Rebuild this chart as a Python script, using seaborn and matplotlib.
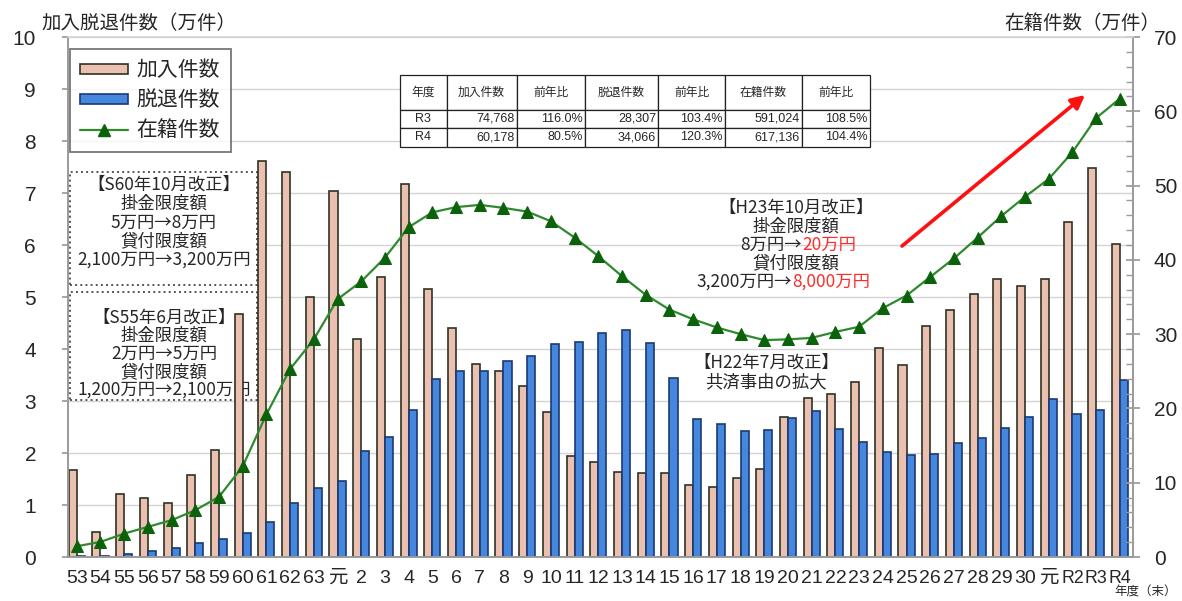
import numpy as np
import pandas as pd
import matplotlib
matplotlib.use("Agg")
import matplotlib.pyplot as plt
from matplotlib.patches import Patch, Rectangle
from matplotlib.lines import Line2D
from matplotlib.ticker import MultipleLocator
import seaborn as sns

# ---- data -------------------------------------------------------------
years = (["S%d" % y for y in range(53, 64)]
         + ["H%d" % y for y in range(1, 31)]
         + ["R%d" % y for y in range(1, 5)])
tick_labels = ([str(y) for y in range(53, 64)] + ["元"]
               + [str(y) for y in range(2, 31)] + ["元", "R2", "R3", "R4"])

# 加入件数 (万件)
joined = [1.67, 0.48, 1.21, 1.14, 1.04, 1.58, 2.05, 4.67, 7.61, 7.40, 5.00,
          7.03, 4.20, 5.39, 7.18, 5.16, 4.41, 3.72, 3.57, 3.28, 2.79,
          1.94, 1.83, 1.63, 1.62, 1.62, 1.38, 1.35, 1.51, 1.70, 2.70,
          3.06, 3.13, 3.36, 4.01, 3.70, 4.44, 4.75, 5.06, 5.35, 5.22,
          5.35, 6.45, 7.4768, 6.0178]
# 脱退件数 (万件)
withdrawn = [0.01, 0.01, 0.06, 0.11, 0.17, 0.26, 0.35, 0.46, 0.68, 1.03, 1.32,
             1.46, 2.03, 2.30, 2.83, 3.42, 3.58, 3.57, 3.76, 3.87, 4.10,
             4.13, 4.31, 4.36, 4.12, 3.44, 2.66, 2.56, 2.43, 2.45, 2.68,
             2.80, 2.46, 2.21, 2.01, 1.96, 1.98, 2.20, 2.28, 2.48, 2.69,
             3.04, 2.75, 2.8307, 3.4066]
# 在籍件数 (万件)
enrolled = [1.45, 2.03, 3.15, 4.06, 4.96, 6.3, 8.1, 12.2, 19.2, 25.3, 29.3,
            34.7, 37.1, 40.3, 44.4, 46.4, 47.1, 47.4, 47.0, 46.5, 45.2,
            43.0, 40.5, 37.8, 35.3, 33.3, 32.0, 30.9, 30.0, 29.2, 29.3,
            29.5, 30.3, 31.0, 33.5, 35.2, 37.7, 40.2, 43.0, 45.9, 48.5,
            50.9, 54.5, 59.1024, 61.7136]

table_header = ["年度", "加入件数", "前年比", "脱退件数", "前年比", "在籍件数", "前年比"]
table_rows = [["R3", "74,768", "116.0%", "28,307", "103.4%", "591,024", "108.5%"],
              ["R4", "60,178", "80.5%", "34,066", "120.3%", "617,136", "104.4%"]]

series_names = ["加入件数", "脱退件数", "在籍件数"]

# ---- style ------------------------------------------------------------
sns.set_theme(style="white")
plt.rcParams["font.family"] = ["Liberation Sans", "Noto Sans CJK JP"]
CJK = ["Noto Sans CJK JP", "Liberation Sans"]

PINK, PINK_EDGE = "#EBC0B1", "#2E3322"
BLUE, BLUE_EDGE = "#4487DC", "#1C3A72"
GREEN_LINE, GREEN_MARK = "#2F8A2F", "#0B620B"
AXIS_GRAY = "#9A9A9A"

n = len(years)
fig, ax = plt.subplots(figsize=(11.82, 6.01), dpi=100)
fig.subplots_adjust(left=0.0575, right=0.9585, bottom=0.0732, top=0.9384)

# ---- bars -------------------------------------------------------------
bars = pd.DataFrame({
    "年度": years * 2,
    "件数": joined + withdrawn,
    "区分": [series_names[0]] * n + [series_names[1]] * n,
})
sns.barplot(data=bars, x="年度", y="件数", hue="区分", order=years,
            hue_order=series_names[:2], palette=[PINK, BLUE], width=0.68,
            saturation=1, errorbar=None, legend=False, ax=ax, zorder=2)
for container, edge in zip(ax.containers, [PINK_EDGE, BLUE_EDGE]):
    for p in container:
        p.set_edgecolor(edge)
        p.set_linewidth(1.2)

xlim = (-0.37, n - 1 + 0.55)
ax.set_xlim(*xlim)
ax.set_ylim(0, 10)
ax.yaxis.set_major_locator(MultipleLocator(1))
ax.set_xticks(np.arange(n))
ax.set_xticklabels(tick_labels)
for lbl in ax.get_xticklabels():
    lbl.set_fontsize(12.8 if lbl.get_text().startswith("R") else 14)
ax.set_xticks(np.arange(n - 1) + 0.5, minor=True)
ax.set_xlabel("")
ax.set_ylabel("")
ax.set_axisbelow(True)
ax.grid(axis="y", color="#D4D4D4", linewidth=1.0, zorder=0.5)
ax.tick_params(axis="x", which="major", length=0, pad=9)
ax.tick_params(axis="x", which="minor", length=6, direction="inout",
               color=AXIS_GRAY, width=1)
ax.tick_params(axis="y", which="major", length=4, direction="out",
               color=AXIS_GRAY, pad=19, labelsize=15)
for side in ["left", "bottom", "right"]:
    ax.spines[side].set_color(AXIS_GRAY)
    ax.spines[side].set_linewidth(1.2)
ax.spines["top"].set_visible(False)

# ---- enrolled line (right axis) --------------------------------------
ax2 = ax.twinx()
sns.lineplot(x=np.arange(n), y=enrolled, ax=ax2, color=GREEN_LINE,
             linewidth=1.6, marker="^", markersize=8,
             markerfacecolor=GREEN_MARK, markeredgecolor=GREEN_MARK, zorder=3)
ax2.set_xlim(*xlim)
ax2.set_ylim(0, 70)
ax2.yaxis.set_major_locator(MultipleLocator(10))
ax2.yaxis.set_minor_locator(MultipleLocator(2))
ax2.tick_params(axis="y", which="major", length=10, direction="inout",
                color=AXIS_GRAY, pad=10, labelsize=15)
ax2.tick_params(axis="y", which="minor", length=5, direction="in",
                color=AXIS_GRAY)
for side in ["left", "bottom", "right"]:
    ax2.spines[side].set_color(AXIS_GRAY)
    ax2.spines[side].set_linewidth(1.2)
ax2.spines["top"].set_color("#D4D4D4")

# ---- axis titles ------------------------------------------------------
fig.text(0.0355, 0.9617, "加入脱退件数（万件）", ha="left", va="center",
         fontsize=14, family=CJK)
fig.text(0.9814, 0.9617, "在籍件数（万件）", ha="right", va="center",
         fontsize=14, family=CJK)
fig.text(0.9958, 0.0150, "年度（末）", ha="right", va="center",
         fontsize=9, family=CJK)

# ---- legend -----------------------------------------------------------
handles = [
    Patch(facecolor=PINK, edgecolor=PINK_EDGE, linewidth=1.2, label=series_names[0]),
    Patch(facecolor=BLUE, edgecolor=BLUE_EDGE, linewidth=1.2, label=series_names[1]),
    Line2D([], [], color=GREEN_LINE, linewidth=1.6, marker="^", markersize=8,
           markerfacecolor=GREEN_MARK, markeredgecolor=GREEN_MARK,
           label=series_names[2]),
]
leg = ax2.legend(handles=handles, loc="upper left", bbox_to_anchor=(0.0019, 0.977),
                 borderaxespad=0, frameon=True, fancybox=False, edgecolor="#555555",
                 prop={"family": CJK, "size": 15}, handlelength=2.3,
                 handleheight=0.35, labelspacing=0.38, borderpad=0.5,
                 handletextpad=0.4)
leg.get_frame().set_linewidth(1.3)
leg.set_zorder(6)

# ---- revision notes ---------------------------------------------------
def note_lines(x, y_top, step, lines, size=12.5):
    for i, s in enumerate(lines):
        ax.text(x, y_top - i * step, s, transform=ax.transAxes, ha="center",
                va="center", fontsize=size, family=CJK, zorder=0.9)


for y0, h in [(0.523, 0.2173), (0.3019, 0.2077)]:
    ax.add_patch(Rectangle((0.0019, y0), 0.1756, h, transform=ax.transAxes,
                           facecolor="white", edgecolor="#555555", linestyle=":",
                           linewidth=1.4, zorder=0.8))

note_lines(0.0901, 0.7154, 0.0361,
           ["【S60年10月改正】", "掛金限度額", "5万円→8万円", "貸付限度額",
            "2,100万円→3,200万円"])
note_lines(0.0901, 0.4596, 0.0346,
           ["【S55年6月改正】", "掛金限度額", "2万円→5万円", "貸付限度額",
            "1,200万円→2,100万円"])

# H23 revision, new limits in red
h23_x, h23_top, h23_step = 0.6836, 0.6712, 0.0356
ax.text(h23_x, h23_top, "【H23年10月改正】", transform=ax.transAxes, ha="center",
        va="center", fontsize=12.5, family=CJK, zorder=0.9)
ax.text(h23_x, h23_top - h23_step, "掛金限度額", transform=ax.transAxes,
        ha="center", va="center", fontsize=12.5, family=CJK, zorder=0.9)
ax.text(0.6892, h23_top - 2 * h23_step, "8万円→", transform=ax.transAxes,
        ha="right", va="center", fontsize=12.5, family=CJK, zorder=0.9)
ax.text(0.6892, h23_top - 2 * h23_step, "20万円", transform=ax.transAxes,
        ha="left", va="center", fontsize=12.5, family=CJK, color="#FF2A2A",
        zorder=0.9)
ax.text(h23_x, h23_top - 3 * h23_step, "貸付限度額", transform=ax.transAxes,
        ha="center", va="center", fontsize=12.5, family=CJK, zorder=0.9)
ax.text(0.6798, h23_top - 4 * h23_step, "3,200万円→", transform=ax.transAxes,
        ha="right", va="center", fontsize=12.5, family=CJK, zorder=0.9)
ax.text(0.6798, h23_top - 4 * h23_step, "8,000万円", transform=ax.transAxes,
        ha="left", va="center", fontsize=12.5, family=CJK, color="#FF2A2A",
        zorder=0.9)

note_lines(0.6554, 0.3731, 0.0365, ["【H22年7月改正】", "共済事由の拡大"])

# upward trend arrow
ax2.annotate("", xy=(0.955, 0.8885), xytext=(0.7831, 0.598),
             xycoords="axes fraction", textcoords="axes fraction",
             arrowprops=dict(arrowstyle="-|>", color="#FF1010", lw=2.6,
                             mutation_scale=20, shrinkA=0, shrinkB=0))

# ---- summary table ----------------------------------------------------
col_w = [46.7, 70, 68.3, 73.3, 66.7, 76.7, 68.3]
tbl = ax2.table(cellText=table_rows, colLabels=table_header, colWidths=col_w,
                cellLoc="right", bbox=[0.3117, 0.7885, 0.4413, 0.1385],
                zorder=7)
tbl.auto_set_font_size(False)
row_h = [0.35, 0.18, 0.19]
for (r, c), cell in tbl.get_celld().items():
    cell.set_height(row_h[r])
    cell.set_linewidth(0.9)
    cell.set_edgecolor("#222222")
    cell.set_facecolor("white")
    cell.PAD = 0.03
    txt = cell.get_text()
    if r == 0:
        txt.set_fontfamily(CJK)
        txt.set_fontsize(8.5)
        txt.set_horizontalalignment("center")
    else:
        txt.set_fontsize(9)
        if c == 0:
            txt.set_horizontalalignment("center")

fig.savefig("out.png", dpi=100)
